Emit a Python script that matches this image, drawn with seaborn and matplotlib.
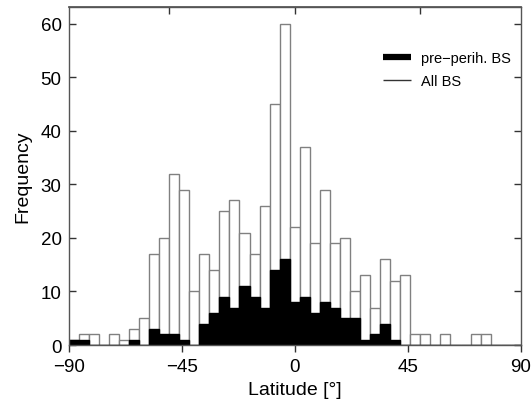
import numpy as np
import matplotlib
matplotlib.use("Agg")
import matplotlib.pyplot as plt
from matplotlib.lines import Line2D
import seaborn as sns

# 4-degree latitude bins from -90 to 90
bin_width = 4
bin_edges = list(range(-90, 91, bin_width))
bin_centers = [e + bin_width / 2 for e in bin_edges[:-1]]

# Counts per bin: all bow shocks
all_bs = [1, 2, 2, 0, 2, 1, 3, 5, 17, 20, 32, 29, 10, 17, 14, 25, 27, 21, 17, 26,
          45, 60, 22, 37, 19, 29, 19, 20, 10, 13, 7, 16, 12, 13, 2, 2, 0, 2, 0, 0,
          2, 2, 0, 0, 0]
# Counts per bin: pre-perihelion bow shocks
pre_bs = [1, 1, 0, 0, 0, 0, 1, 0, 3, 2, 2, 1, 0, 4, 6, 9, 7, 11, 9, 7,
          14, 16, 8, 9, 6, 8, 7, 5, 5, 1, 2, 4, 1, 0, 0, 0, 0, 0, 0, 0,
          0, 0, 0, 0, 0]

x_ticks = [-90, -45, 0, 45, 90]
y_ticks = [0, 10, 20, 30, 40, 50, 60]
legend_labels = ["pre\u2212perih. BS", "All BS"]

sns.set_theme(style="ticks")
plt.rcParams["font.family"] = ["Liberation Sans", "DejaVu Sans"]
plt.rcParams["text.color"] = "black"
plt.rcParams["axes.labelcolor"] = "black"
plt.rcParams["xtick.labelcolor"] = "black"
plt.rcParams["ytick.labelcolor"] = "black"

fig = plt.figure(figsize=(5.32, 4.10), dpi=100)
ax = fig.add_axes([0.129, 0.156, 0.850, 0.824])

edge_gray = "#808080"
sns.histplot(x=bin_centers, weights=all_bs, bins=bin_edges, ax=ax,
             color="white", edgecolor=edge_gray, linewidth=1.0, alpha=1.0)
sns.histplot(x=bin_centers, weights=pre_bs, bins=bin_edges, ax=ax,
             color="black", edgecolor="black", linewidth=1.0, alpha=1.0)

ax.set_xlim(-90, 90)
ax.set_ylim(0, 63.1)
ax.set_xticks(x_ticks)
ax.set_yticks(y_ticks)

spine_color = "#555555"
for side in ["left", "right", "top", "bottom"]:
    ax.spines[side].set_visible(True)
    ax.spines[side].set_color(spine_color)
    ax.spines[side].set_linewidth(1.0)

ax.tick_params(axis="x", direction="out", length=5, width=1.0, color="#333333",
               labelsize=13.5, pad=4, bottom=True, top=False)
ax.tick_params(axis="y", direction="in", length=5, width=1.0, color="#333333",
               labelsize=13.5, pad=5, left=True, right=True)

top = ax.secondary_xaxis("top")
top.set_xticks([-50, 0, 50])
top.tick_params(direction="in", length=5, width=1.0, color="#333333", labeltop=False)
top.spines["top"].set_color(spine_color)

ax.set_xlabel("Latitude [°]", fontsize=14, labelpad=5)
ax.set_ylabel("Frequency", fontsize=14, labelpad=7)

handles = [Line2D([0], [0], color="black", linewidth=4.5, solid_capstyle="butt"),
           Line2D([0], [0], color="#333333", linewidth=1.0, solid_capstyle="butt")]
ax.legend(handles, legend_labels, loc="upper left", bbox_to_anchor=(0.68, 0.893),
          frameon=False, fontsize=10.5, handlelength=1.9, handletextpad=0.7,
          labelspacing=0.65, borderpad=0)

fig.savefig("out.png", dpi=100)
